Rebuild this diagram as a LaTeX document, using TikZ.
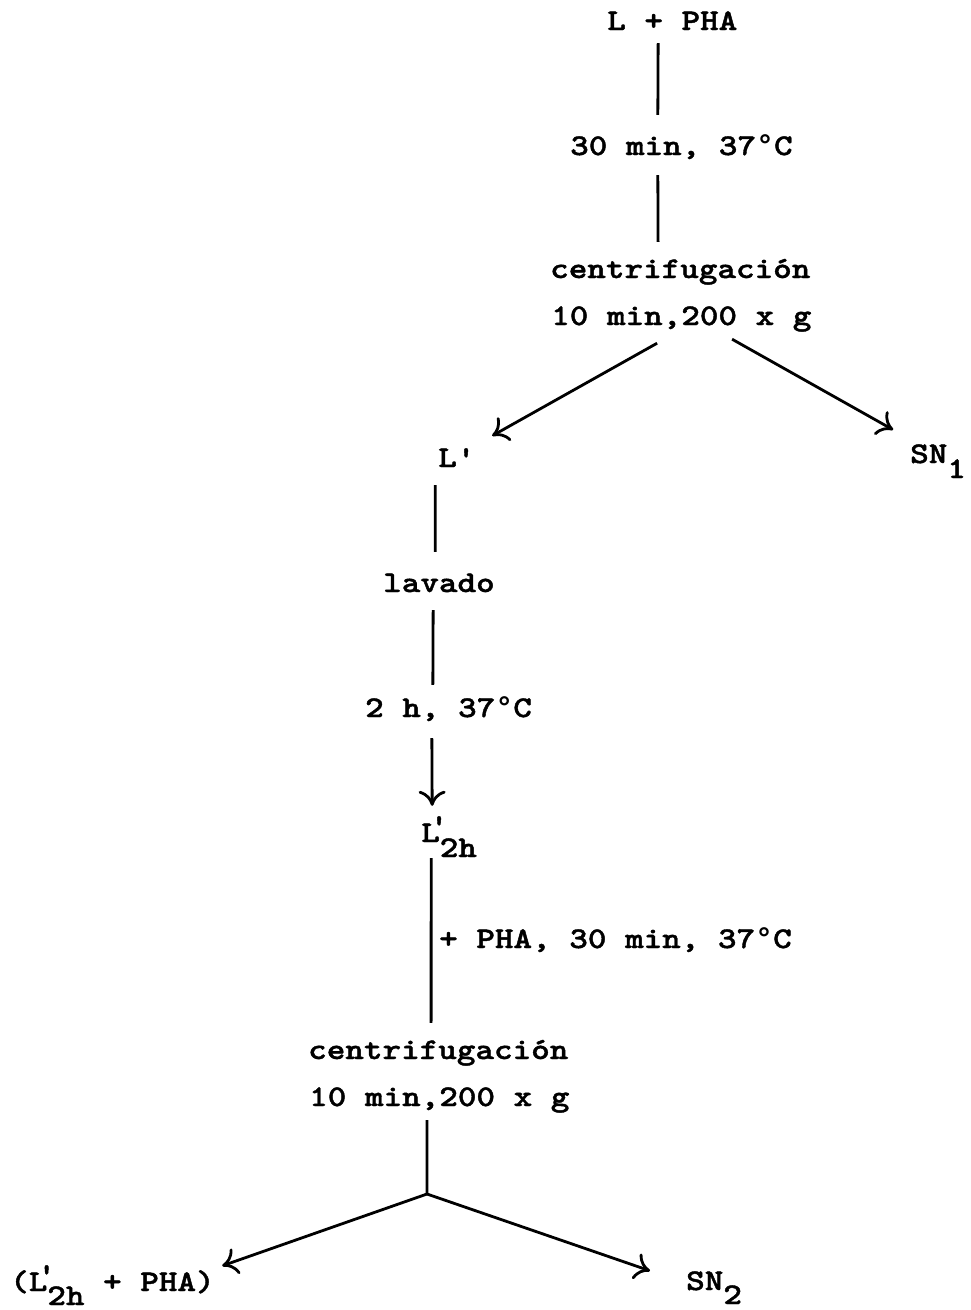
\documentclass[tikz,border=0pt]{standalone}
\usepackage{fontspec}
\usetikzlibrary{arrows.meta}
\newfontfamily\monof{lmmonolt10-bold.otf}[FakeStretch=1.18,FakeBold=1.4]
\newfontfamily\degf{Liberation Mono Bold}
\newcommand\dg{{\degf °}}
\newcommand\prm{\rlap{\kern-10pt\raisebox{7pt}{'}}}
\begin{document}
\begin{tikzpicture}[x=1pt,y=-1pt,
  txt/.style={font=\monof\fontsize{30}{30}\selectfont, inner sep=0pt, anchor=base west, text height=22pt, text depth=8pt},
  ln/.style={line width=2.8pt},
  arr/.style={line width=2.8pt, -{Computer Modern Rightarrow[length=15pt,width=27pt,line width=2.8pt]}}]
\useasboundingbox[fill=white] (0,0) rectangle (971,1310);
% nodes
\node[txt] (n0) at (607,30) {L + PHA};
\node[txt] (t1) at (570,155) {30 min, 37\dg C};
\node[txt] (c1) at (550,278) {centrifugación};
\node[txt] (c2) at (551,325) {10 min,200 x g};
\node[txt] (Lp) at (438,467) {L'};
\node[txt] (sn1) at (910,463) {SN\raisebox{-15pt}{1}};
\node[txt] (lav) at (383,592) {lavado};
\node[txt] (h2) at (365,717) {2 h, 37\dg C};
\node[txt] (L2h) at (421,842) {L\prm\raisebox{-15pt}{2h}};
\node[txt] (pha) at (439,948) {+ PHA, 30 min, 37\dg C};
\node[txt] (c3) at (308,1059) {centrifugación};
\node[txt] (c4) at (309,1106) {10 min,200 x g};
\coordinate (j) at (427,1194);
\node[txt] (bl) at (10,1291) {(L\prm\raisebox{-14pt}{2h} + PHA)};
\node[txt] (sn2) at (686,1290) {SN\raisebox{-14pt}{2}};
% connectors
\draw[ln] ([shift={(-14.1,5)}]n0.south) -- ([shift={(-23.6,-18)}]t1.north);
\draw[ln] ([shift={(-23.6,12)}]t1.south) -- ([shift={(-22.2,-14)}]c1.north);
\draw[arr] ([shift={(-24.2,10)}]c2.south) -- ([shift={(35.4,-9)}]Lp.north);
\draw[arr] ([shift={(50.8,6)}]c2.south) -- ([shift={(-44.9,-11)}]sn1.north);
\draw[ln] ([shift={(-21.6,10)}]Lp.south) -- ([shift={(-3.8,-18)}]lav.north);
\draw[ln] ([shift={(-5.8,10)}]lav.south) -- ([shift={(-15.7,-10)}]h2.north);
\draw[arr] ([shift={(-16.7,13)}]h2.south) -- ([shift={(-16.9,-14)}]L2h.north);
\draw[ln] ([shift={(-17.9,8)}]L2h.south) -- ([shift={(-7.2,-14)}]c3.north);
\draw[ln] ([shift={(-12.2,6)}]c4.south) -- (j);
\draw[arr] (j) -- ([shift={(7.4,-3)}]bl.north east);
\draw[arr] (j) -- ([shift={(-36,3)}]sn2.north west);
\end{tikzpicture}
\end{document}
